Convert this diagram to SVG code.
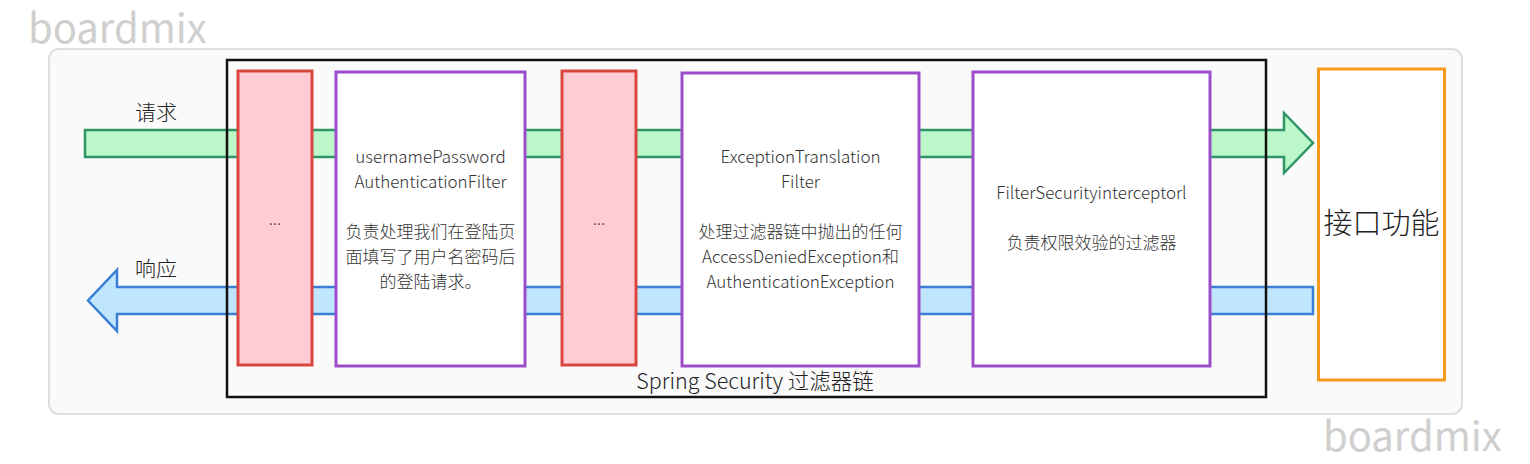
<svg xmlns="http://www.w3.org/2000/svg" width="1530" height="464" viewBox="0 0 1530 464">
<style>
text{font-family:"Noto Sans CJK SC","Noto Sans",sans-serif;fill:#333;font-weight:300}
.wm{font-size:40px;fill:#cfcfcf;font-weight:400}
.lbl{font-size:21px;fill:#222}
.t{font-size:17px;text-anchor:middle}
.red{fill:#ffccd5;stroke:#d9463f;stroke-width:3}
.pur{fill:#fff;stroke:#9b4dca;stroke-width:3}
</style>
<rect x="49" y="49" width="1413" height="365" rx="10" fill="#fafafa" stroke="#dedede" stroke-width="2"/>
<text class="wm" x="28" y="43">boardmix</text>
<text class="wm" x="1323" y="451">boardmix</text>
<g id="connectors">
<path d="M85 130 H1284 V113 L1313 143 L1284 173 V157 H85 Z" fill="#bbf7c8" stroke="#2f9466" stroke-width="2.5"/>
<path d="M1313 287 H117 V270 L88 300.5 L117 331 V314 H1313 Z" fill="#c0e6fd" stroke="#3a7fd5" stroke-width="2.5"/>
</g>
<text class="lbl" x="135" y="120">请求</text>
<text class="lbl" x="135" y="276">响应</text>
<g id="chain">
<rect x="227" y="60" width="1039" height="337" fill="none" stroke="#111" stroke-width="2.5"/>
<text x="755" y="389" style="font-size:21.5px;text-anchor:middle;fill:#222">Spring Security 过滤器链</text>
</g>
<g id="filter1">
<rect class="red" x="238" y="71" width="74" height="294"/>
<text class="t" x="275" y="225">...</text>
</g>
<g id="upaf">
<rect class="pur" x="336" y="72" width="189" height="294"/>
<text class="t" x="430.5" y="163">usernamePassword</text>
<text class="t" x="430.5" y="188">AuthenticationFilter</text>
<text class="t" x="430.5" y="238">负责处理我们在登陆页</text>
<text class="t" x="430.5" y="263">面填写了用户名密码后</text>
<text class="t" x="430.5" y="288">的登陆请求。</text>
</g>
<g id="filter2">
<rect class="red" x="562" y="71" width="74" height="294"/>
<text class="t" x="599" y="225">...</text>
</g>
<g id="etf">
<rect class="pur" x="682" y="73" width="237" height="293"/>
<text class="t" x="800.5" y="163">ExceptionTranslation</text>
<text class="t" x="800.5" y="188">Filter</text>
<text class="t" x="800.5" y="238">处理过滤器链中抛出的任何</text>
<text class="t" x="800.5" y="263">AccessDeniedException和</text>
<text class="t" x="800.5" y="288">AuthenticationException</text>
</g>
<g id="fsi">
<rect class="pur" x="973" y="72" width="237" height="294"/>
<text class="t" x="1091.5" y="199">FilterSecurityinterceptorl</text>
<text class="t" x="1091.5" y="249">负责权限效验的过滤器</text>
</g>
<g id="api">
<rect x="1318.5" y="69" width="126" height="311" fill="#fff" stroke="#f7991c" stroke-width="3"/>
<text x="1381.5" y="234" style="font-size:29px;text-anchor:middle;fill:#222">接口功能</text>
</g>
</svg>
